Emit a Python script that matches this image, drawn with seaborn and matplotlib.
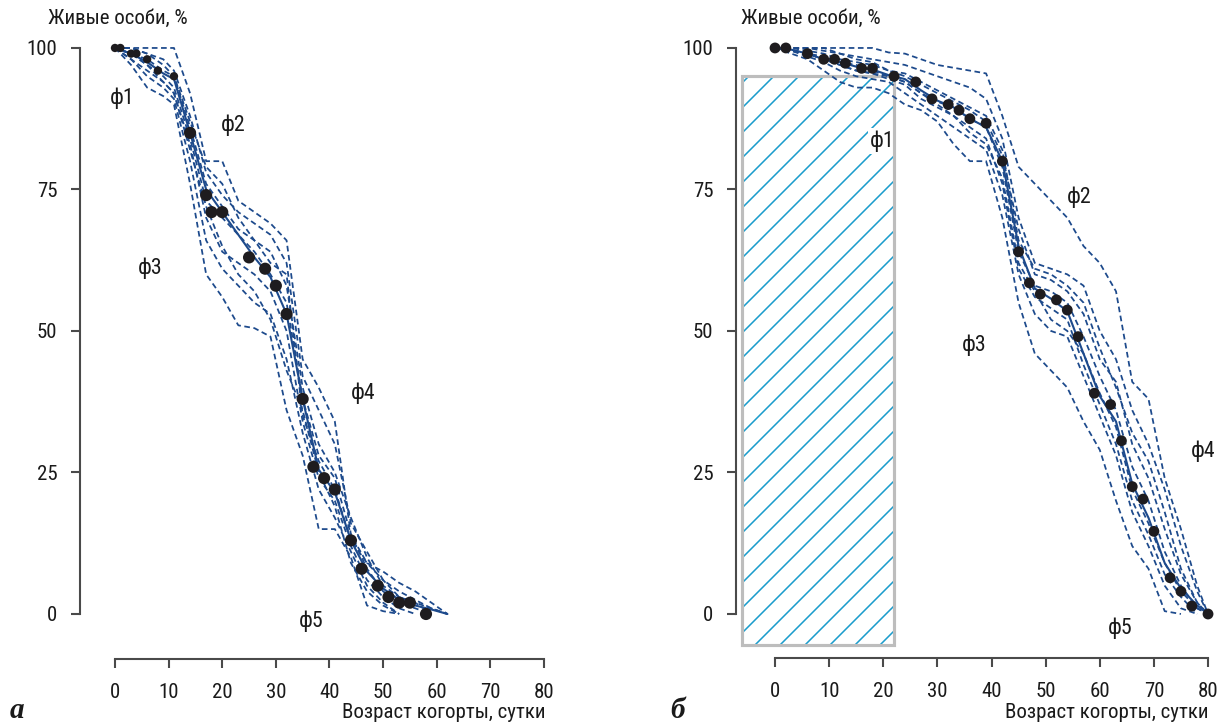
import numpy as np
import pandas as pd
import matplotlib
matplotlib.use("Agg")
import matplotlib.pyplot as plt
from matplotlib.patches import Rectangle
import seaborn as sns

# ---------------- panel а: survival of the cohort, days 0-62 ----------------
age_a = [0, 3, 6, 9, 11, 14, 17, 20, 23, 26, 29, 32, 35, 38, 41, 44, 47, 50, 53, 56, 59, 62]
mean_a = [100, 99, 97.5, 95.5, 94.5, 85, 75, 71, 67, 63, 59.5, 53, 38, 25.5, 21.5, 13, 7.5, 4.5, 2.5, 1.5, 0.8, 0]
run_a1 = [100, 100, 100, 100, 100, 92, 80, 80, 73, 71, 69, 66, 45, 40, 34, 14, 9, 7.5, 5.5, 4, 2, 0]
run_a2 = [100, 100, 99, 98, 96, 88, 78, 74, 71, 69, 67, 62, 42, 36, 30, 16, 11, 6, 4, 2.5, 1, 0]
run_a3 = [100, 99, 98, 96, 95, 86, 76, 72, 68, 66, 64, 58, 40, 30, 25, 17, 10, 5, 3, 2, 0]
run_a4 = [100, 99, 97, 95, 93, 84, 73, 70, 67, 64, 60, 55, 38, 28, 24, 14, 8, 4, 2, 1, 0]
run_a5 = [100, 98, 96, 94, 92, 83, 70, 64, 62, 60, 57, 50, 34, 24, 20, 12, 6, 3, 1, 0]
run_a6 = [100, 98, 95, 93, 91, 80, 66, 61, 58, 55, 53, 45, 32, 22, 17, 11, 5, 2, 0]
run_a7 = [100, 97, 93, 91.5, 90, 76, 60, 56, 51, 50.5, 49, 36, 28, 15, 15, 10, 1.5, 0.5, 0]
run_a8 = [100, 100, 99, 97, 95, 87, 79, 76, 70, 66, 62, 60, 35, 27, 22, 13, 9, 6, 3, 2, 1, 0]
run_a9 = [100, 99, 97, 94, 92, 82, 72, 65, 60, 57, 52, 43, 36, 25, 19, 9, 4, 1.5, 0]
obs_age_a = [0, 1, 3, 4, 6, 8, 11, 14, 17, 18, 20, 25, 28, 30, 32, 35, 37, 39, 41, 44, 46, 49, 51, 53, 55, 58]
obs_alive_a = [100, 100, 99, 99, 98, 96, 95, 85, 74, 71, 71, 63, 61, 58, 53, 38, 26, 24, 22, 13, 8, 5, 3, 2, 2, 0]
phase_xy_a = [(1.3, 91.2), (22, 86.4), (6.5, 61), (46.3, 39), (36.6, -1.2)]

# ---------------- panel б: survival of the cohort, days 0-80 ----------------
age_b = [0, 3, 6, 9, 12, 15, 18, 21, 24, 27, 30, 33, 36, 39, 42, 45, 48, 51, 54, 57, 60, 63, 66, 69, 72, 75, 78, 80]
mean_b = [100, 99.7, 99, 98, 97.5, 96.7, 96.2, 95.2, 94.5, 92.5, 90.7, 89.5, 87.5, 86, 80, 65, 57.5, 55.7, 53.5,
          46, 38.5, 34, 23, 17, 9, 4.5, 1.5, 0]
run_b1 = [100, 100, 100, 100, 100, 100, 100, 99.2, 99, 98, 97, 96.5, 96, 95.5, 88, 79, 76, 73, 70, 65, 62, 57,
          41, 38, 24, 15, 5, 0]
run_b2 = [100, 100, 100, 99.5, 99, 98.5, 98, 97.5, 97, 96, 95, 94, 93, 91, 84, 70, 62, 61, 60, 58, 50, 45,
          36, 30, 22, 12, 4, 0]
run_b3 = [100, 100, 99.5, 99, 98, 97.5, 97, 96, 95.5, 94, 92.5, 91, 89.5, 88, 82, 66, 61, 60, 58, 55, 47, 40,
          32, 27, 18, 8, 2, 0]
run_b4 = [100, 99.7, 99, 98.5, 97.5, 97, 96, 95, 94, 92, 90.5, 89.5, 87.5, 86, 79, 64, 58, 57, 55, 49, 42, 36,
          26, 20, 11, 5, 1, 0]
run_b5 = [100, 99.5, 99, 98, 97, 96, 95.5, 94.5, 93.5, 91, 89.5, 88, 86, 84, 76, 61, 56, 54, 52, 44, 37, 30,
          20, 14, 7, 3, 0]
run_b6 = [100, 99.5, 98.5, 97.5, 96, 95, 94.5, 94, 92, 90, 88, 86, 84, 82, 74, 60, 53, 50, 49, 42, 35, 28,
          18, 12, 5, 1, 0]
run_b7 = [100, 99, 98, 96, 94, 93, 93, 92, 90, 89, 87, 83, 80, 80, 70, 55, 46, 43, 40, 34, 29, 20, 12, 8, 0.5, 0]
run_b8 = [100, 100, 100, 100, 99, 98, 97.5, 96, 95, 93.5, 92, 90.5, 89, 87, 81, 68, 60, 59, 57, 53, 45, 41,
          30, 24, 15, 7, 2, 0]
run_b9 = [100, 99.5, 99, 98, 97, 96, 95.5, 95, 94, 92, 90, 88, 85, 83, 77, 62, 57, 52, 50, 46, 39, 33,
          22, 16, 9, 4, 1, 0]
obs_age_b = [0, 2, 6, 9, 11, 13, 16, 18, 22, 26, 29, 32, 34, 36, 39, 42, 45, 47, 49, 52, 54, 56, 59, 62,
             64, 66, 68, 70, 73, 75, 77, 80]
obs_alive_b = [100, 100, 99, 98, 98, 97.3, 96.4, 96.4, 95, 94, 91, 90, 89, 87.5, 86.7, 80, 64, 58.5, 56.5,
               55.5, 53.7, 49, 39, 37, 30.6, 22.5, 20.3, 14.6, 6.4, 4, 1.4, 0]
phase_xy_b = [(19.8, 83.6), (56.2, 73.7), (36.8, 47.5), (79.1, 28.8), (63.8, -2.5)]
# early phase shown as a shaded block: x from, x to, y from, y to
early_block_b = (-6.1, 22, -5.5, 95)

phase_names = ["ф1", "ф2", "ф3", "ф4", "ф5"]
x_ticks = [0, 10, 20, 30, 40, 50, 60, 70, 80]
y_ticks = [0, 25, 50, 75, 100]
y_title = "Живые особи, %"
x_title = "Возраст когорты, сутки"

BLUE = "#1d4a8c"
DOT = "#1e1c1f"
SPINE = "#4a4a4a"
HATCH = "#1b9ccc"

DPI = 150
sns.set_theme(style="ticks")
plt.rcParams["font.family"] = ["Liberation Sans Narrow", "Roboto Condensed", "DejaVu Sans"]
plt.rcParams["hatch.linewidth"] = 0.75
plt.rcParams["axes.edgecolor"] = SPINE

fig = plt.figure(figsize=(1223 / DPI, 727 / DPI), dpi=DPI)
ax_a = fig.add_axes([0.05895, 0.07758, 0.3946, 0.8798])
ax_b = fig.add_axes([0.5983, 0.07758, 0.3983, 0.8798])


def long_runs(ages, runs):
    frames = []
    for i, r in enumerate(runs):
        frames.append(pd.DataFrame({"age": ages[:len(r)], "alive": r, "run": i}))
    return pd.concat(frames, ignore_index=True)


def draw_panel(ax, ages, runs, mean, obs_x, obs_y, phases, spine_x, spine_y, small_until=None, boxed=None):
    df = long_runs(ages, runs)
    sns.lineplot(data=df, x="age", y="alive", units="run", estimator=None, sort=False,
                 color=BLUE, lw=0.85, linestyle=(0, (3.2, 2.0)), ax=ax, legend=False, zorder=3)
    sns.lineplot(x=ages, y=mean, estimator=None, sort=False, color=BLUE, lw=1.0, ax=ax, zorder=3)
    obs = pd.DataFrame({"age": obs_x, "alive": obs_y})
    if small_until is not None:
        early = obs[obs["age"] <= small_until]
        late = obs[obs["age"] > small_until]
        sns.scatterplot(data=early, x="age", y="alive", s=16, color=DOT, edgecolor="none", ax=ax, zorder=5)
        sns.scatterplot(data=late, x="age", y="alive", s=34, color=DOT, edgecolor="none", ax=ax, zorder=5)
    else:
        sns.scatterplot(data=obs, x="age", y="alive", s=27, color=DOT, edgecolor="none", ax=ax, zorder=5)

    for i, (name, (px, py)) in enumerate(zip(phase_names, phases)):
        kw = {"zorder": 6}
        if boxed is not None and i == boxed:
            kw["bbox"] = dict(facecolor="white", edgecolor="none", pad=1.0)
            kw["zorder"] = 1.5
        ax.text(px, py, name, ha="center", va="center", fontsize=10.5, color="#1a1a1a", **kw)

    ax.set_xlim(-8, 82)
    ax.set_ylim(-10, 103)
    ax.set_xticks(x_ticks)
    ax.set_yticks(y_ticks)
    ax.set_xlabel("")
    ax.set_ylabel("")
    for s in ("top", "right"):
        ax.spines[s].set_visible(False)
    ax.spines["left"].set_position(("data", spine_x))
    ax.spines["left"].set_bounds(0, 100)
    ax.spines["bottom"].set_position(("data", spine_y))
    ax.spines["bottom"].set_bounds(0, 80)
    for s in ("left", "bottom"):
        ax.spines[s].set_linewidth(1.0)
        ax.spines[s].set_color(SPINE)
    ax.tick_params(axis="both", length=4.5, width=1.0, color=SPINE, labelsize=10, labelcolor="#1a1a1a")
    ax.tick_params(axis="y", pad=6.5)
    ax.tick_params(axis="x", pad=7)
    ax.patch.set_alpha(0)


# hatched early-phase block sits beneath the curves of panel б
bx0, bx1, by0, by1 = early_block_b
ax_b.add_patch(Rectangle((bx0, by0), bx1 - bx0, by1 - by0, facecolor="white", edgecolor=HATCH,
                         hatch="//", linewidth=0, zorder=1))
ax_b.add_patch(Rectangle((bx0, by0), bx1 - bx0, by1 - by0, facecolor="none", edgecolor="#bdbdbd",
                         linewidth=1.5, zorder=2))

draw_panel(ax_a, age_a, [run_a1, run_a2, run_a3, run_a4, run_a5, run_a6, run_a7, run_a8, run_a9],
           mean_a, obs_age_a, obs_alive_a, phase_xy_a, spine_x=-6.5, spine_y=-8, small_until=11)
draw_panel(ax_b, age_b, [run_b1, run_b2, run_b3, run_b4, run_b5, run_b6, run_b7, run_b8, run_b9],
           mean_b, obs_age_b, obs_alive_b, phase_xy_b, spine_x=-7.2, spine_y=-7.8, boxed=0)

W, H = 1223, 727
for x0, xr in ((48, 545), (741, 1208)):
    fig.text(x0 / W, 1 - 18 / H, y_title, ha="left", va="center", fontsize=10, color="#1a1a1a")
    fig.text(xr / W, 1 - 712 / H, x_title, ha="right", va="center", fontsize=10, color="#1a1a1a")
fig.text(17 / W, 1 - 711 / H, "а", ha="center", va="center", fontsize=14, fontweight="bold",
         fontstyle="italic", family=["Liberation Serif", "DejaVu Serif"], color="#1a1a1a")
fig.text(678 / W, 1 - 711 / H, "б", ha="center", va="center", fontsize=14, fontweight="bold",
         fontstyle="italic", family=["Liberation Serif", "DejaVu Serif"], color="#1a1a1a")

fig.savefig("out.png", dpi=DPI)
